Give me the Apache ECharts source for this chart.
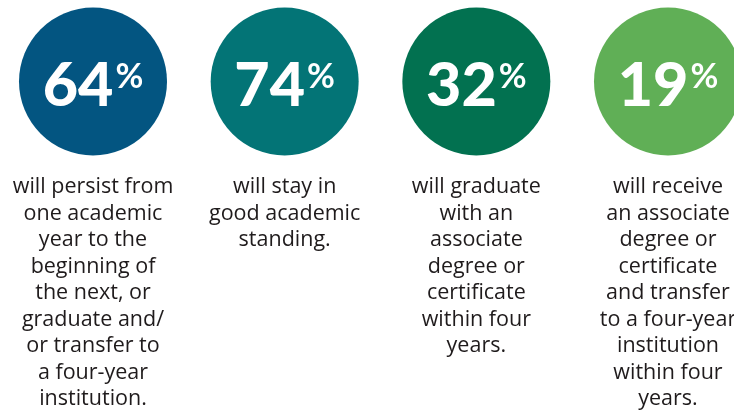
<!DOCTYPE html>
<html>
<head>
<meta charset="utf-8">
<script src="https://cdn.jsdelivr.net/npm/echarts@6/dist/echarts.min.js"></script>
<style>
html,body{margin:0;padding:0;background:#fff;}
#chart{width:734px;height:412px;}
</style>
</head>
<body>
<div id="chart"></div>
<script>
// ---- data ----
const categories = ['persist', 'standing', 'graduate', 'transfer'];
const percents = [64, 74, 32, 19];
const descriptions = [
  'will persist from\none academic\nyear to the\nbeginning of\nthe next, or\ngraduate and/\nor transfer to\na four-year\ninstitution.',
  'will stay in\ngood academic\nstanding.',
  'will graduate\nwith an\nassociate\ndegree or\ncertificate\nwithin four\nyears.',
  'will receive\nan associate\ndegree or\ncertificate\nand transfer\nto a four-year\ninstitution\nwithin four\nyears.'
];
const rowName = ['all'];

// ---- styles ----
const palette = ['#035581', '#037476', '#027150', '#60af56'];

const chart = echarts.init(document.getElementById('chart'), null, {renderer: 'canvas'});
chart.setOption({
  animation: false,
  backgroundColor: '#ffffff',
  grid: {left: 93, right: 66, top: 7.5, height: 148},
  xAxis: {type: 'category', data: categories, boundaryGap: false, show: false},
  yAxis: {type: 'category', data: rowName, show: false},
  series: [
    {
      type: 'scatter',
      clip: false,
      silent: true,
      symbol: 'circle',
      symbolSize: 148,
      data: categories.map((c, i) => ({value: [c, rowName[0]], itemStyle: {color: palette[i], opacity: 1}})),
      itemStyle: {opacity: 1},
      label: {
        show: true,
        opacity: 1,
        position: 'inside',
        offset: [0, 5],
        formatter: p => '{n|' + percents[p.dataIndex] + '}{p|%}',
        rich: {
          n: {fontFamily: 'Lato', fontWeight: 900, fontSize: 61, lineHeight: 60, color: '#ffffff'},
          p: {fontFamily: 'Lato', fontWeight: 700, fontSize: 34, lineHeight: 60, verticalAlign: 'top', padding: [4, 0, 0, 2], color: '#ffffff'}
        }
      }
    },
    {
      type: 'scatter',
      clip: false,
      silent: true,
      symbolSize: 1,
      itemStyle: {color: 'transparent', opacity: 1},
      data: categories.map(c => [c, rowName[0]]),
      label: {
        show: true,
        opacity: 1,
        position: 'bottom',
        distance: 92,
        align: 'center',
        formatter: p => descriptions[p.dataIndex],
        fontFamily: 'Open Sans',
        fontSize: 21.5,
        lineHeight: 26.5,
        color: '#1f1b1c'
      }
    }
  ]
});
</script>
</body>
</html>
